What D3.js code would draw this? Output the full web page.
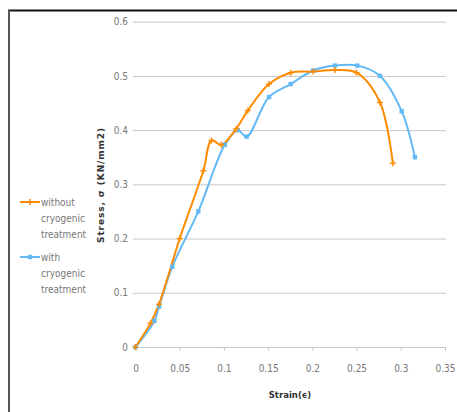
<!DOCTYPE html>
<html><head><meta charset="utf-8">
<script src="https://cdn.jsdelivr.net/npm/d3@7/dist/d3.min.js"></script>
<style>body{margin:0;background:#fff;} svg{display:block;} .cond{font-family:'DejaVu Sans',sans-serif;font-stretch:condensed;}</style>
</head><body>
<svg id="c" width="457" height="412"></svg>
<script>
const strainWithout = [0, 0.017, 0.0266, 0.05, 0.0767, 0.086, 0.097, 0.1137, 0.127, 0.151, 0.1755, 0.201, 0.2256, 0.25, 0.2765, 0.291];
const stressWithout = [0, 0.044, 0.079, 0.2, 0.325, 0.381, 0.373, 0.402, 0.436, 0.485, 0.506, 0.508, 0.511, 0.506, 0.451, 0.339];
const strainWith = [0, 0.0213, 0.0266, 0.0416, 0.071, 0.101, 0.1156, 0.1257, 0.151, 0.1755, 0.201, 0.2256, 0.2508, 0.2765, 0.301, 0.316];
const stressWith = [0, 0.048, 0.0744, 0.148, 0.25, 0.373, 0.400, 0.388, 0.461, 0.485, 0.51, 0.519, 0.519, 0.50, 0.435, 0.35];
const xTicks = [0, 0.05, 0.1, 0.15, 0.2, 0.25, 0.3, 0.35];
const yTicks = [0, 0.1, 0.2, 0.3, 0.4, 0.5, 0.6];
const legendLines = [["without", "cryogenic", "treatment"], ["with", "cryogenic", "treatment"]];
const xTitle = "Strain(\u03F5)";
const yTitle = "Stress, \u03C3 (KN/mm2)";

const svg = d3.select("#c");
const orange = "#ff8c00", blue = "#62b9f6";

// frame
svg.append("line").attr("x1",8).attr("x2",457).attr("y1",10.5).attr("y2",10.5).attr("stroke","#111").attr("stroke-width",2);
svg.append("line").attr("x1",9).attr("x2",9).attr("y1",10).attr("y2",412).attr("stroke","#555").attr("stroke-width",2);

const x = d3.scaleLinear().domain([0,0.35]).range([135.5,445]);
const y = d3.scaleLinear().domain([0,0.6]).range([347,21.7]);

// gridlines
const gy = svg.append("g").attr("transform","translate(133,0)")
  .call(d3.axisLeft(y).tickValues(yTicks).tickSize(-313).tickFormat(d=>d3.format("")(d)).tickPadding(5));
gy.select(".domain").remove();
gy.selectAll(".tick line").attr("stroke","#c8c8c8");
gy.selectAll(".tick text").attr("class","cond").attr("fill","#777").style("font-size","10px");

// x axis
const gx = svg.append("g").attr("transform","translate(0,347)")
  .call(d3.axisBottom(x).tickValues(xTicks).tickSize(4).tickSizeOuter(0).tickFormat(d=>d3.format("")(d)).tickPadding(14));
gx.select(".domain").attr("stroke","#c8c8c8").attr("d","M133,0.5H446");
gx.selectAll(".tick line").attr("stroke","#c8c8c8");
gx.selectAll(".tick text").attr("class","cond").attr("fill","#777").style("font-size","10px");

// titles
svg.append("text").attr("class","cond").attr("x",290).attr("y",398).attr("text-anchor","middle")
  .attr("fill","#333").style("font-size","9.5px").style("font-weight","bold").text(xTitle);
svg.append("text").attr("transform","translate(104,185) rotate(-90)").attr("text-anchor","middle")
  .attr("fill","#333").style("font-family","'DejaVu Sans',sans-serif").style("font-size","9px").style("font-weight","bold")
  .style("letter-spacing","0.9px").text(yTitle);

const line = d3.line().x(d=>x(d[0])).y(d=>y(d[1])).curve(d3.curveCatmullRom.alpha(0.5));
const dWithout = strainWithout.map((v,i)=>[v,stressWithout[i]]);
const dWith = strainWith.map((v,i)=>[v,stressWith[i]]);

svg.append("path").datum(dWith).attr("d",line).attr("fill","none").attr("stroke",blue).attr("stroke-width",2);
svg.append("path").datum(dWithout).attr("d",line).attr("fill","none").attr("stroke",orange).attr("stroke-width",2);

function plus(g,cx,cy,col){
  g.append("path").attr("d",`M${cx-3},${cy}H${cx+3}M${cx},${cy-3}V${cy+3}`).attr("stroke",col).attr("stroke-width",1.5);
}
function sq(g,cx,cy,col){
  g.append("rect").attr("x",cx-2.2).attr("y",cy-2.2).attr("width",4.4).attr("height",4.4).attr("fill",col);
}
const mg = svg.append("g");
dWith.forEach(d=>sq(mg,x(d[0]),y(d[1]),blue));
dWithout.forEach(d=>plus(mg,x(d[0]),y(d[1]),orange));

// legend
const legY = [202, 257];
const cols = [orange, blue];
legendLines.forEach((lines,i)=>{
  svg.append("line").attr("x1",20).attr("x2",40).attr("y1",legY[i]).attr("y2",legY[i]).attr("stroke",cols[i]).attr("stroke-width",2);
  if(i===0) plus(svg,30,legY[i],cols[i]); else sq(svg,30,legY[i],cols[i]);
  lines.forEach((t,j)=>{
    svg.append("text").attr("class","cond").attr("x",41).attr("y",legY[i]+3.5+j*16.3).attr("fill","#777")
      .style("font-size","10px").text(t);
  });
});
</script>
</body></html>
